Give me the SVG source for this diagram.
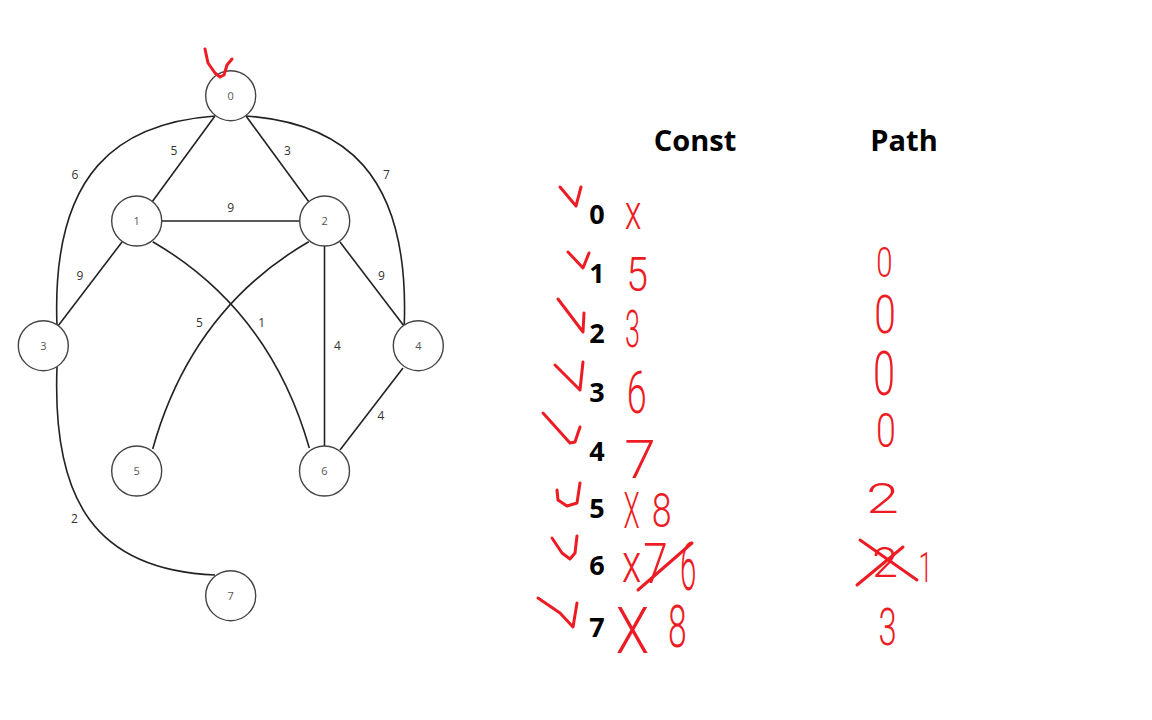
<svg xmlns="http://www.w3.org/2000/svg" width="1152" height="720" viewBox="0 0 1152 720">
<style>
.node circle{fill:#fff;stroke:#444;stroke-width:1.4}
.node text{font-family:"Open Sans","Noto Sans",sans-serif;font-size:11px;fill:#555;text-anchor:middle}
.edges path{fill:none;stroke:#222;stroke-width:1.6}
.elabel{font-family:"Open Sans","Noto Sans",sans-serif;font-size:12px;fill:#333;text-anchor:middle}
.head{font-family:"Open Sans","Noto Sans",sans-serif;font-weight:bold;font-size:29px;fill:#000;text-anchor:middle}
.row{font-family:"Open Sans","Noto Sans",sans-serif;font-weight:bold;font-size:27px;fill:#000;text-anchor:middle}
.hw{font-family:Roboto,"Liberation Sans",sans-serif;font-weight:300;fill:#ed1c24;text-anchor:middle}
.mark{fill:none;stroke:#ed1c24;stroke-width:3;stroke-linecap:round;stroke-linejoin:round}
</style>
<rect width="1152" height="720" fill="#fff"/>
<g class="edges" id="edges">
<path d="M215,116 L152,202"/>
<path d="M246,116 L309,202"/>
<path d="M215,116 C120,123 51,170 57,326"/>
<path d="M246.2,116 C341.2,123 410.2,170 404.2,326"/>
<path d="M162,221 L300,221"/>
<path d="M122,242 L58,326"/>
<path d="M340,242 L404,326"/>
<path d="M152.7,241.7 Q270,310 309.3,448"/>
<path d="M308.7,241.7 Q191.4,310 152.7,449"/>
<path d="M324.5,246 L324.5,446"/>
<path d="M403,368 L340,450"/>
<path d="M57,367 C52,500 95,570 215,575"/>
<text class="elabel" x="174" y="155">5</text>
<text class="elabel" x="287.5" y="155">3</text>
<text class="elabel" x="75" y="178.5">6</text>
<text class="elabel" x="386.5" y="178.5">7</text>
<text class="elabel" x="230.7" y="212">9</text>
<text class="elabel" x="80" y="279.5">9</text>
<text class="elabel" x="381.5" y="279.5">9</text>
<text class="elabel" x="199.5" y="326.5">5</text>
<text class="elabel" x="261.7" y="326.5">1</text>
<text class="elabel" x="337.5" y="349.5">4</text>
<text class="elabel" x="381" y="420">4</text>
<text class="elabel" x="74.5" y="522.5">2</text>
</g>
<g class="node" id="node0"><circle cx="230.7" cy="95.7" r="25"/><text x="230.7" y="99.5">0</text></g>
<g class="node" id="node1"><circle cx="136.7" cy="221" r="25"/><text x="136.7" y="225">1</text></g>
<g class="node" id="node2"><circle cx="324.7" cy="221" r="25"/><text x="324.7" y="225">2</text></g>
<g class="node" id="node3"><circle cx="43.3" cy="345.7" r="25"/><text x="43.3" y="349.5">3</text></g>
<g class="node" id="node4"><circle cx="418.3" cy="345.7" r="25"/><text x="418.3" y="349.5">4</text></g>
<g class="node" id="node5"><circle cx="136.7" cy="471" r="25"/><text x="136.7" y="475">5</text></g>
<g class="node" id="node6"><circle cx="324.5" cy="471" r="25"/><text x="324.5" y="475">6</text></g>
<g class="node" id="node7"><circle cx="230.7" cy="595.7" r="25"/><text x="230.7" y="599.5">7</text></g>
<g id="table">
<text class="head" x="695" y="151">Const</text>
<text class="head" x="904" y="151">Path</text>
<text class="row" x="597" y="224">0</text>
<text class="row" x="597" y="283">1</text>
<text class="row" x="597" y="343">2</text>
<text class="row" x="597" y="402">3</text>
<text class="row" x="597" y="461">4</text>
<text class="row" x="597" y="518">5</text>
<text class="row" x="597" y="575">6</text>
<text class="row" x="597" y="637">7</text>
</g>
<g id="annotations">
<path class="mark" d="M205,49 L208,63 L215,73 L220,77 L224,75 L227,65 L232,59"/>
<path class="mark" d="M560,187 L576,206 L581,187"/>
<path class="mark" d="M568,252 L583,268 L589,253"/>
<path class="mark" d="M558,299 L583,332 L584,313"/>
<path class="mark" d="M555,365 L580,390 L583,362"/>
<path class="mark" d="M543,413 L570,443 L575,442 L580,427"/>
<path class="mark" d="M557,490 L558,500 L567,506 L577,503 L580,483"/>
<path class="mark" d="M552,538 L562,553 L570,559 L575,553 L577,536"/>
<path class="mark" d="M538,598 L560,613 L573,627 L577,603"/>
<path class="mark" d="M638,590 L692,543"/>
<path class="mark" d="M860,540 L917,580"/>
<path class="mark" d="M903,547 L857,585"/>
<text class="hw" transform="translate(633,229) scale(0.7,1)" font-size="49">x</text>
<text class="hw" transform="translate(637,291) scale(0.8,1)" font-size="49">5</text>
<text class="hw" transform="translate(632.5,347) scale(0.52,1)" font-size="52">3</text>
<text class="hw" transform="translate(636.7,413) scale(0.6,1)" font-size="60">6</text>
<text class="hw" transform="translate(640,478) scale(1.05,1)" font-size="54">7</text>
<text class="hw" transform="translate(631.5,528) scale(0.53,1)" font-size="50">X</text>
<text class="hw" transform="translate(661.7,526.7) scale(0.73,1)" font-size="49">8</text>
<text class="hw" transform="translate(631.7,581.7) scale(0.71,1)" font-size="56">x</text>
<text class="hw" transform="translate(655.5,583) scale(0.8,1)" font-size="55">7</text>
<text class="hw" transform="translate(688.3,590) scale(0.44,1)" font-size="67">6</text>
<text class="hw" transform="translate(632.5,653) scale(0.85,1)" font-size="64">X</text>
<text class="hw" transform="translate(677.3,646.7) scale(0.57,1)" font-size="59">8</text>
<text class="hw" transform="translate(884.3,276.7) scale(0.7,1)" font-size="42">0</text>
<text class="hw" transform="translate(885,333.3) scale(0.72,1)" font-size="54">0</text>
<text class="hw" transform="translate(884,395) scale(0.65,1)" font-size="61">0</text>
<text class="hw" transform="translate(886,447) scale(0.73,1)" font-size="49">0</text>
<text class="hw" transform="translate(882.5,513.3) scale(1.4,1)" font-size="42">2</text>
<text class="hw" transform="translate(885,576.7) scale(1.1,1)" font-size="42">2</text>
<text class="hw" transform="translate(925.5,581.7) scale(0.6,1)" font-size="42">1</text>
<text class="hw" transform="translate(887.5,645) scale(0.63,1)" font-size="52">3</text>
</g>
</svg>
